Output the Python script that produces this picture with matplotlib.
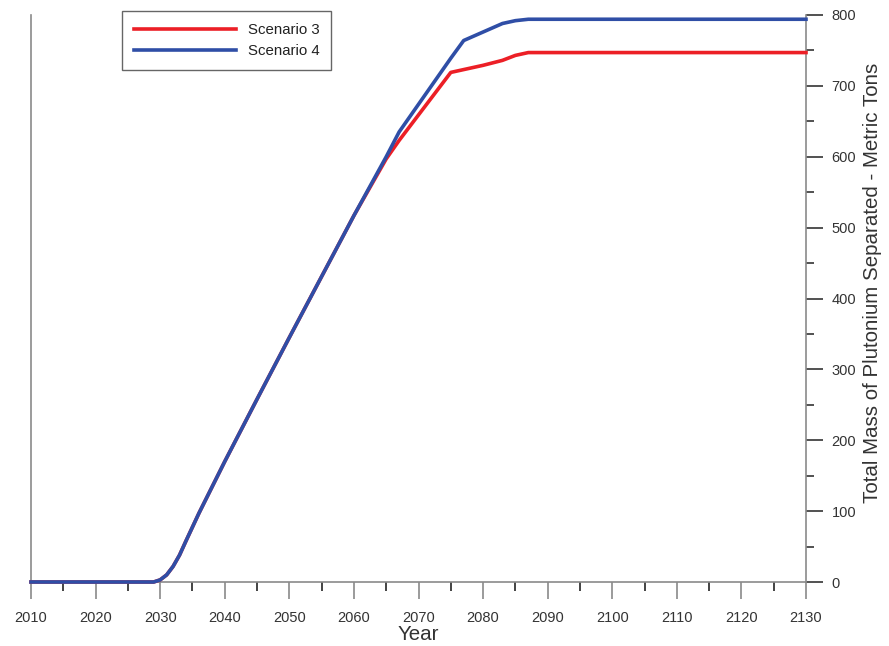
import matplotlib
matplotlib.use("Agg")
import matplotlib.pyplot as plt
from matplotlib.ticker import MultipleLocator

plt.rcParams['font.family'] = ['Liberation Sans', 'DejaVu Sans']

# data
years = [2010, 2029, 2030, 2031, 2032, 2033, 2034, 2036, 2040, 2045, 2050, 2055, 2060,
         2065, 2067, 2075, 2077, 2080, 2083, 2085, 2087, 2088, 2130]
scenario3 = [0, 0, 3, 10, 22, 38, 58, 97, 170, 258, 345, 431, 517,
             597, 623, 719, 723, 729, 736, 743, 747, 747, 747]
scenario4 = [0, 0, 3, 10, 22, 38, 58, 97, 170, 258, 345, 431, 517,
             600, 635, 739, 764, 776, 788, 792, 794, 794, 794]

red = '#ec1f26'
blue = '#2f4ea6'
gray = '#8a8a8a'
txt = '#333333'

fig = plt.figure(figsize=(8.89, 6.46), dpi=100)
ax = fig.add_axes([31 / 889, 1 - 582 / 646, 775 / 889, 567 / 646])

ax.plot(years, scenario3, color=red, lw=2.6, label='Scenario 3', clip_on=False, zorder=3)
ax.plot(years, scenario4, color=blue, lw=2.6, label='Scenario 4', clip_on=False, zorder=4)

ax.set_xlim(2010, 2130)
ax.set_ylim(0, 800)

ax.spines['top'].set_visible(False)
for s in ['left', 'right', 'bottom']:
    ax.spines[s].set_color(gray)
    ax.spines[s].set_linewidth(1.2)

ax.xaxis.set_major_locator(MultipleLocator(10))
ax.xaxis.set_minor_locator(MultipleLocator(5))
ax.yaxis.set_major_locator(MultipleLocator(100))
ax.yaxis.set_minor_locator(MultipleLocator(50))

ax.yaxis.tick_right()
ax.yaxis.set_label_position('right')

ax.tick_params(axis='x', which='major', direction='out', length=12, width=1.2,
               color=gray, labelsize=10.5, labelcolor=txt, pad=9)
ax.tick_params(axis='x', which='minor', direction='out', length=6.5, width=1.1,
               color='#111111')
ax.tick_params(axis='y', which='major', direction='out', length=12, width=1.1,
               color='#222222', labelsize=10.5, labelcolor=txt, pad=6.5)
ax.tick_params(axis='y', which='minor', direction='out', length=6, width=1.1,
               color='#222222')

ax.set_xlabel('Year', fontsize=14.8, color=txt, labelpad=0)
ax.set_ylabel('Total Mass of Plutonium Separated - Metric Tons', fontsize=14.8,
              color=txt)
ax.yaxis.set_label_coords(1.073, 0.528)

leg = ax.legend(loc='upper left', bbox_to_anchor=(0.117, 1.007), borderaxespad=0,
                fancybox=False, fontsize=10.8, handlelength=6.8, handletextpad=0.8,
                borderpad=0.8, labelspacing=0.45, framealpha=1)
leg.get_frame().set_edgecolor('#666666')
leg.get_frame().set_linewidth(1.0)
for t in leg.get_texts():
    t.set_color('#222222')

fig.savefig('out.png', dpi=100)
